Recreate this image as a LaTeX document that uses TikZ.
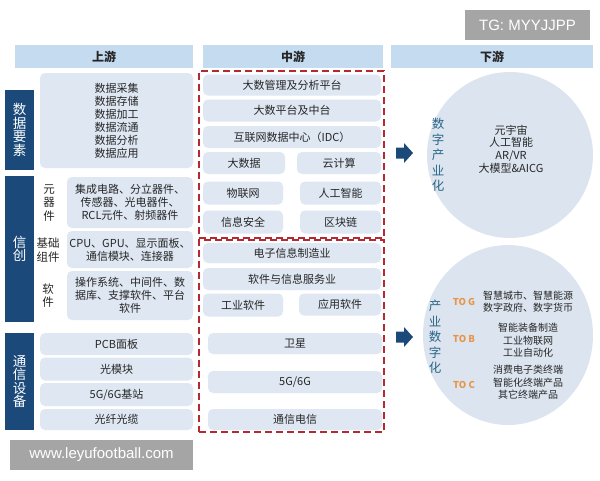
\documentclass[tikz,border=0pt]{standalone}
\usepackage{fontspec}
\setmainfont{Noto Sans CJK SC}
\newfontfamily\wmfont{Liberation Sans}
\usetikzlibrary{shapes.arrows,shapes.geometric}
\definecolor{hdrblue}{HTML}{C5DBEF}
\definecolor{cellblue}{HTML}{DEE7F2}
\definecolor{circblue}{HTML}{DCE5EF}
\definecolor{navy}{HTML}{1B4A7A}
\definecolor{dashred}{HTML}{B52A30}
\definecolor{toorange}{HTML}{E8954A}
\definecolor{tealtxt}{HTML}{2A6688}
\definecolor{wmgray}{HTML}{A5A5A5}
\definecolor{txt}{HTML}{262626}
\begin{document}
\begin{tikzpicture}[x=1pt,y=-1pt,
  hdr/.style={fill=hdrblue,inner sep=0,minimum height=23,text=txt,font=\fontsize{12}{13}\selectfont\bfseries},
  cell/.style={fill=cellblue,rounded corners=5,inner sep=0,text=txt,align=center,font=\fontsize{11}{13}\selectfont},
  lbl/.style={fill=navy,inner sep=0,minimum width=29,text=white,align=center,font=\fontsize{13.5}{13.5}\selectfont},
  sublbl/.style={inner sep=0,text=txt,align=center,font=\fontsize{11.5}{13.5}\selectfont},
  dashbox/.style={draw=dashred,line width=1.8,dash pattern=on 7pt off 4pt,inner sep=0},
  blockarrow/.style={fill=navy},
  circtxt/.style={inner sep=0,text=txt,align=center,font=\fontsize{11}{12.8}\selectfont},
  vtxt/.style={inner sep=0,text=tealtxt,align=center,font=\fontsize{12.5}{15.5}\selectfont},
  totxt/.style={inner sep=0,text=toorange,font=\fontsize{9.5}{10}\selectfont\bfseries},
  wm/.style={fill=wmgray,inner sep=0,text=white,font=\wmfont\fontsize{15}{16}\selectfont}
]
\useasboundingbox[fill=white] (0,0) rectangle (600,480);

% watermarks
\node[wm,minimum width=125,minimum height=30] (wm1) at (527.5,25) {TG: MYYJJPP};
\node[wm,minimum width=183,minimum height=30] (wm2) at (101.5,455) {www.leyufootball.com};

% headers
\node[hdr,minimum width=178] (h1) at (104,56.5) {上游};
\node[hdr,minimum width=180] (h2) at (293,56.5) {中游};
\node[hdr,minimum width=202] (h3) at (492,56.5) {下游};

% left labels
\node[lbl,minimum height=80] (l1) at (19.5,130) {数\\据\\要\\素};
\node[lbl,minimum height=146] (l2) at (19.5,249) {信\\创};
\node[lbl,minimum height=97] (l3) at (19.5,381.5) {通\\信\\设\\备};

% upstream cells
\node[cell,minimum width=153,minimum height=95] (u1) at (116.5,120.5)
  {数据采集\\数据存储\\数据加工\\数据流通\\数据分析\\数据应用};
\node[cell,minimum width=126,minimum height=51] (u2) at (130,202.5)
  {集成电路、分立器件、\\传感器、光电器件、\\RCL元件、射频器件};
\node[cell,minimum width=126,minimum height=37] (u3) at (130,249.5)
  {CPU、GPU、显示面板、\\通信模块、连接器};
\node[cell,minimum width=126,minimum height=49] (u4) at (130,295.5)
  {操作系统、中间件、数\\据库、支撑软件、平台\\软件};
\node[sublbl] (s1) at (49,203) {元\\器\\件};
\node[sublbl] (s2) at (48,250) {基础\\组件};
\node[sublbl] (s3) at (48,295.5) {软\\件};
\node[cell,minimum width=153,minimum height=22] (u5) at (116.5,344) {PCB面板};
\node[cell,minimum width=153,minimum height=23] (u6) at (116.5,369) {光模块};
\node[cell,minimum width=153,minimum height=23] (u7) at (116.5,394.5) {5G/6G基站};
\node[cell,minimum width=153,minimum height=21] (u8) at (116.5,419.5) {光纤光缆};

% midstream cells
\node[cell,minimum width=178,minimum height=21] (m1) at (292,85) {大数管理及分析平台};
\node[cell,minimum width=178,minimum height=22] (m2) at (292,110.5) {大数平台及中台};
\node[cell,minimum width=178,minimum height=22] (m3) at (292,137) {互联网数据中心（IDC）};
\node[cell,minimum width=82,minimum height=22] (m4) at (244,163) {大数据};
\node[cell,minimum width=84,minimum height=22] (m5) at (339,163) {云计算};
\node[cell,minimum width=80,minimum height=23] (m6) at (243,193) {物联网};
\node[cell,minimum width=81,minimum height=23] (m7) at (340.5,193) {人工智能};
\node[cell,minimum width=80,minimum height=23] (m8) at (243,222) {信息安全};
\node[cell,minimum width=81,minimum height=23] (m9) at (340.5,222) {区块链};

\node[cell,minimum width=178,minimum height=20] (n1) at (292,253) {电子信息制造业};
\node[cell,minimum width=178,minimum height=22] (n2) at (292,279) {软件与信息服务业};
\node[cell,minimum width=80,minimum height=23] (n3) at (243,305) {工业软件};
\node[cell,minimum width=82,minimum height=22] (n4) at (340,304.5) {应用软件};
\node[cell,minimum width=174,minimum height=21] (n5) at (295,343.5) {卫星};
\node[cell,minimum width=174,minimum height=22] (n6) at (295,382) {5G/6G};
\node[cell,minimum width=174,minimum height=21] (n7) at (295,419.5) {通信电信};

% dashed frames
\node[dashbox,minimum width=185,minimum height=167] (d1) at (291.5,154.5) {};
\node[dashbox,minimum width=185,minimum height=192] (d2) at (291.5,336) {};

% arrows
\coordinate (a1) at (404.5,153);
\coordinate (a2) at (404.5,337);
\foreach \a in {a1,a2}
  \fill[blockarrow] (\a) ++(-8.5,-5.5) -- ++(8,0) -- ++(0,-4.5) -- ++(9,10) -- ++(-9,10) -- ++(0,-4.5) -- ++(-8,0) -- cycle;

% circles
\node[circle,fill=circblue,inner sep=0,minimum size=166] (c1) at (510,155) {};
\node[ellipse,fill=circblue,inner sep=0,minimum width=170,minimum height=180] (c2) at (508,335) {};

\node[vtxt] (v1) at (438,155) {数\\字\\产\\业\\化};
\node[circtxt] (t1) at (511,149) {元宇宙\\人工智能\\AR/VR\\大模型\&AICG};

\node[vtxt] (v2) at (435,337) {产\\业\\数\\字\\化};
\node[totxt] (g) at (464,302) {TO G};
\node[totxt] (b) at (464,339) {TO B};
\node[totxt] (c) at (464,385) {TO C};
\node[circtxt,font=\fontsize{10}{12.5}\selectfont] (tg) at (528,301.5) {智慧城市、智慧能源\\数字政府、数字货币};
\node[circtxt,font=\fontsize{10}{12.5}\selectfont] (tb) at (528,340.5) {智能装备制造\\工业物联网\\工业自动化};
\node[circtxt,font=\fontsize{10}{12.5}\selectfont] (tc) at (528,382.5) {消费电子类终端\\智能化终端产品\\其它终端产品};
\end{tikzpicture}
\end{document}
